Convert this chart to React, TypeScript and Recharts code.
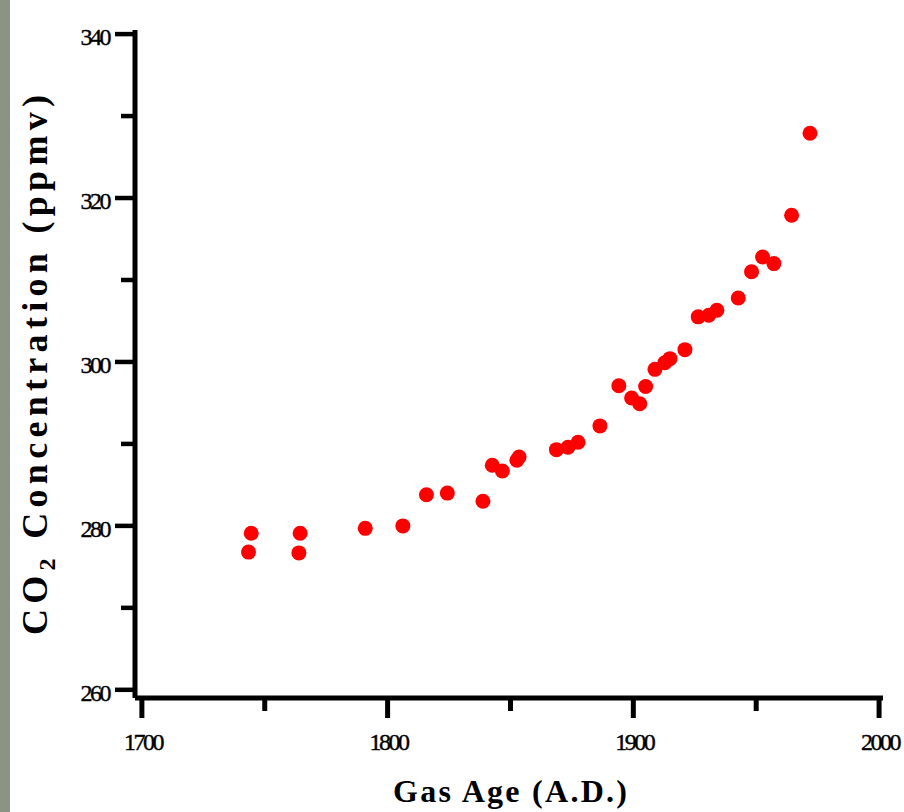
import React from 'react';
import { ScatterChart, Scatter, XAxis, YAxis } from 'recharts';

const gasAge = [1743.4, 1744.5, 1763.9, 1764.4, 1790.9, 1806.2, 1815.8, 1824.3, 1838.8, 1842.6, 1846.7, 1852.6, 1853.5, 1868.7, 1873.4, 1877.5, 1886.4, 1894.1, 1899.3, 1902.6, 1905.0, 1908.8, 1912.8, 1914.9, 1921.0, 1926.4, 1930.7, 1934.0, 1942.7, 1948.1, 1952.6, 1957.2, 1964.4, 1971.9];
const co2Ppmv = [276.8, 279.1, 276.7, 279.1, 279.7, 280.0, 283.8, 284.0, 283.0, 287.4, 286.7, 288.0, 288.4, 289.3, 289.6, 290.2, 292.2, 297.1, 295.6, 294.9, 297.0, 299.1, 299.9, 300.4, 301.5, 305.5, 305.7, 306.3, 307.8, 311.0, 312.8, 312.0, 317.9, 327.9];

const xTicks = [1700, 1750, 1800, 1850, 1900, 1950, 2000];
const xLabelled = [1700, 1800, 1900, 2000];
const yTicks = [260, 270, 280, 290, 300, 310, 320, 330, 340];
const yLabelled = [260, 280, 300, 320, 340];

const xTitle = 'Gas Age (A.D.)';
const yTitleMain = 'CO';
const yTitleSub = '2';
const yTitleRest = 'Concentration (ppmv)';

const data = gasAge.map((year, i) => ({ year, co2: co2Ppmv[i] }));

const SERIF = '"Liberation Serif", "DejaVu Serif", serif';

const XTick = (props: any) => {
  const { x, y, payload } = props;
  const v = payload.value;
  const major = xLabelled.includes(v);
  const label = String(v);
  return (
    <g>
      <line x1={x} x2={x} y1={y} y2={y + (major ? 20 : 13)} stroke="#000" strokeWidth={5} />
      {major && (
        <text x={x + 1} y={y + 52} textAnchor="middle" fontFamily={SERIF} fontSize={24} fill="#000"
          stroke="#000" strokeWidth={0.4} letterSpacing={-2.5}>{label}</text>
      )}
    </g>
  );
};

const YTick = (props: any) => {
  const { x, y, payload } = props;
  const v = payload.value;
  const major = yLabelled.includes(v);
  const label = String(v);
  return (
    <g>
      <line x1={x - (major ? 20 : 14)} x2={x} y1={y} y2={y} stroke="#000" strokeWidth={4.5} />
      {major && (
        <text x={x - 26} y={y + 11} textAnchor="end" fontFamily={SERIF} fontSize={24} fill="#000"
          stroke="#000" strokeWidth={0.4} letterSpacing={-2.5}>{label}</text>
      )}
    </g>
  );
};

const XTitle = () => (
  <text x={510} y={802} textAnchor="middle" fontFamily={SERIF} fontWeight="bold" fontSize={32} fill="#000"
    textLength={234} lengthAdjust="spacing">{xTitle}</text>
);

const YTitle = () => (
  <text transform="translate(47,365) rotate(-90)" textAnchor="middle" fontFamily={SERIF} fontWeight="bold"
    fontSize={36} fill="#000" textLength={540} lengthAdjust="spacing">
    {yTitleMain}
    <tspan dy={8} fontSize={24}>{yTitleSub}</tspan>
    <tspan dy={-8}>{'  ' + yTitleRest}</tspan>
  </text>
);

const Dot = (props: any) => {
  const { cx, cy } = props;
  if (cx == null || cy == null) return null;
  return <circle cx={cx} cy={cy} r={7.5} fill="#ff0000" />;
};

export default function App() {
  return (
    <div style={{ position: 'absolute', left: 0, top: 0, width: 904, height: 812, background: '#ffffff', overflow: 'hidden' }}>
      <div style={{ position: 'absolute', left: 0, top: 0, width: 10, height: 812, background: '#8b9383' }} />
      <div style={{ position: 'absolute', left: 0, top: 0 }}>
        <ScatterChart width={904} height={812} margin={{ top: 30, right: 21, bottom: 0, left: 0 }} style={{ overflow: 'visible' }}>
          <XAxis
            type="number"
            dataKey="year"
            domain={[1697.2, 2001.6]}
            allowDataOverflow
            ticks={xTicks}
            interval={0}
            height={114}
            tickSize={0}
            tickMargin={0}
            tickLine={false}
            axisLine={{ stroke: '#000', strokeWidth: 5 }}
            tick={<XTick />}
            label={<XTitle />}
          />
          <YAxis
            type="number"
            dataKey="co2"
            domain={[259, 340.5]}
            allowDataOverflow
            ticks={yTicks}
            interval={0}
            width={135}
            tickSize={0}
            tickMargin={0}
            tickLine={false}
            axisLine={{ stroke: '#000', strokeWidth: 5 }}
            tick={<YTick />}
            label={<YTitle />}
          />
          <Scatter data={data} isAnimationActive={false} shape={<Dot />} />
        </ScatterChart>
      </div>
    </div>
  );
}
